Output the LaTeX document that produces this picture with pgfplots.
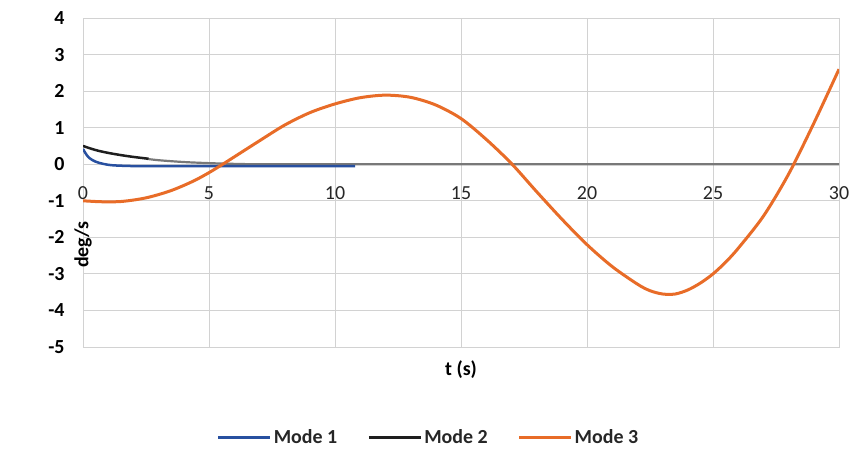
\documentclass[border=0pt]{standalone}
\usepackage{pgfplots}
\pgfplotsset{compat=1.18}
\usepackage{fontspec}
\setmainfont{Carlito}
\definecolor{mblue}{RGB}{40,80,160}
\definecolor{mblack}{RGB}{30,30,30}
\definecolor{mgray}{RGB}{120,120,120}
\definecolor{morange}{RGB}{232,108,40}
\definecolor{gridc}{RGB}{210,210,210}
\newcommand{\bigf}{\fontsize{20}{24}\selectfont}
\begin{document}
\begin{tikzpicture}[font=\bigf]
\path[use as bounding box] (0,0) rectangle (851bp,-450bp);
\begin{axis}[
  at={(83bp,-347bp)}, anchor=south west,
  scale only axis, width=756bp, height=329bp,
  xmin=0, xmax=30, ymin=-5, ymax=4,
  xtick={0,5,...,30}, ytick={-5,-4,...,4},
  xticklabels={0,5,10,15,20,25,30},
  yticklabels={-5,-4,-3,-2,-1,0,1,2,3,4},
  grid=major,
  grid style={gridc, line width=0.9bp},
  axis line style={gridc, line width=0.9bp},
  major tick length=0pt,
  xticklabel style={font=\bigf, anchor=center, yshift=154bp, text=black!85},
  yticklabel style={font=\bigf\bfseries, xshift=-15bp},
  xlabel={t (s)},
  xlabel style={at={(axis description cs:0.5,0)}, anchor=center, yshift=-23bp, font=\bigf\bfseries},
  ylabel={deg/s},
  ylabel style={at={(axis description cs:0,0.5)}, anchor=center, xshift=-62bp, font=\bigf\bfseries},
  legend columns=3,
  legend style={at={(0.457,-0.274)}, anchor=center, draw=none, fill=none,
    font=\bigf\bfseries, text=black!85, /tikz/every even column/.append style={column sep=28bp}},
  legend image code/.code={\draw[#1, line width=3bp] (0bp,0bp) -- (52bp,0bp);},
]
% Mode 2 continuation near zero (gray)
\addplot[mgray, line width=2.2bp, smooth, forget plot] coordinates {
(2.5,0.15) (3,0.11) (4,0.06) (5,0.03) (6,0.01) (7,0.0) (10,0.0) (15,0.0) (20,0.0) (25,0.0) (30,0.0)};
\addplot[mblue, line width=2.5bp, smooth] coordinates {
(0,0.42) (0.1,0.3) (0.25,0.17) (0.5,0.07) (0.8,0.01) (1.2,-0.03) (2,-0.05) (3,-0.05) (5,-0.05) (8,-0.05) (10.8,-0.05)};
\addlegendentry{Mode 1}
\addplot[mblack, line width=2.5bp, smooth] coordinates {
(0,0.5) (0.3,0.43) (0.6,0.37) (1,0.31) (1.5,0.25) (2,0.2) (2.6,0.15)};
\addlegendentry{Mode 2}
\addplot[morange, line width=3bp, smooth] coordinates {
(0,-1.0) (0.5,-1.02) (1,-1.03) (1.5,-1.02) (2,-0.98) (2.5,-0.92) (3,-0.83)
(3.5,-0.72) (4,-0.58) (4.5,-0.42) (5,-0.23) (5.5,-0.02) (6,0.2) (7,0.64)
(8,1.07) (9,1.41) (10,1.65) (11,1.82) (12,1.89) (13,1.83) (14,1.62)
(15,1.25) (16,0.68) (17,0.02) (18,-0.75) (19,-1.5) (20,-2.2) (21,-2.8)
(22,-3.28) (22.5,-3.46) (23,-3.55) (23.5,-3.55) (24,-3.44) (24.5,-3.25)
(25,-3.0) (25.5,-2.68) (26,-2.3) (27,-1.42) (28,-0.27)
(29,1.12) (30,2.6)};
\addlegendentry{Mode 3}
\end{axis}
\end{tikzpicture}
\end{document}
